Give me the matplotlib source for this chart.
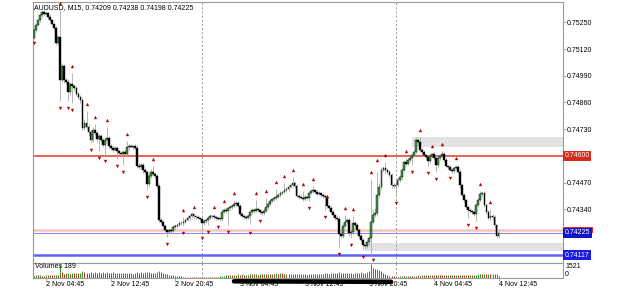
# -*- coding: utf-8 -*-
"""
AUDUSD M15 (MT4), velas del 2 Nov 03:15 al 4 Nov 12:45 con fractales,
niveles horizontales, zonas grises y el panel de volumen.
"""
import numpy as np
import matplotlib.pyplot as plt
from matplotlib.patches import Rectangle
from matplotlib.transforms import blended_transform_factory

plt.rcParams['font.family'] = ['Liberation Sans', 'DejaVu Sans']

#Datos (precios en puntos, 1 punto = 0.00001)
apertura0 = 75174
cierres = [75213, 75237, 75262, 75286, 75301, 75291, 75296, 75276, 75262, 75242,
           75223, 75150, 75179, 74969, 75038, 74969, 74960, 74911, 74950, 74940,
           74930, 74901, 74887, 74872, 74736, 74760, 74741, 74716, 74677, 74726,
           74711, 74682, 74697, 74677, 74653, 74677, 74687, 74648, 74638, 74629,
           74638, 74624, 74614, 74609, 74619, 74609, 74643, 74648, 74643, 74648,
           74638, 74551, 74546, 74556, 74531, 74522, 74463, 74502, 74522, 74512,
           74502, 74453, 74288, 74278, 74259, 74239, 74229, 74239, 74234, 74254,
           74259, 74263, 74273, 74273, 74278, 74288, 74298, 74307, 74317, 74307,
           74302, 74298, 74293, 74273, 74283, 74288, 74298, 74307, 74307, 74302,
           74298, 74293, 74293, 74327, 74336, 74332, 74346, 74351, 74356, 74366,
           74371, 74356, 74317, 74307, 74302, 74298, 74307, 74327, 74336, 74332,
           74341, 74336, 74327, 74322, 74332, 74351, 74366, 74380, 74390, 74395,
           74400, 74410, 74419, 74424, 74434, 74439, 74448, 74458, 74468, 74453,
           74405, 74400, 74395, 74390, 74400, 74395, 74419, 74429, 74434, 74424,
           74414, 74419, 74410, 74405, 74400, 74356, 74346, 74327, 74312, 74298,
           74293, 74220, 74210, 74259, 74278, 74288, 74224, 74229, 74273, 74263,
           74239, 74210, 74190, 74166, 74161, 74181, 74200, 74278, 74312, 74322,
           74410, 74448, 74531, 74541, 74531, 74522, 74507, 74458, 74453, 74458,
           74483, 74497, 74531, 74570, 74560, 74580, 74590, 74604, 74619, 74677,
           74667, 74629, 74619, 74604, 74595, 74575, 74599, 74609, 74590, 74556,
           74590, 74599, 74609, 74580, 74551, 74546, 74531, 74526, 74541, 74546,
           74522, 74458, 74410, 74385, 74351, 74336, 74332, 74327, 74317, 74361,
           74385, 74414, 74419, 74361, 74327, 74298, 74307, 74302, 74263, 74209,
           74225]

#mechas superiores e inferiores (puntos)
mecha_sup = [8, 10, 6, 12, 9, 7, 10, 6, 8, 5,
             7, 10, 12, 130, 15, 10, 8, 12, 9, 53,
             10, 8, 12, 9, 15, 20, 58, 12, 10, 15,
             28, 10, 12, 8, 10, 15, 53, 10, 8, 12,
             10, 8, 10, 6, 9, 12, 29, 8, 10, 6,
             8, 15, 12, 10, 8, 12, 10, 15, 12, 28,
             10, 12, 15, 10, 8, 10, 6, 8, 5, 10,
             8, 6, 10, 12, 23, 8, 10, 6, 8, 2,
             6, 8, 5, 10, 8, 6, 10, 8, 6, 9,
             5, 8, 6, 12, 9, 8, 6, 10, 8, 18,
             8, 10, 12, 8, 6, 10, 8, 6, 10, 8,
             43, 8, 6, 10, 12, 43, 8, 10, 6, 8,
             38, 8, 10, 6, 33, 8, 10, 6, 28, 10,
             12, 8, 10, 33, 8, 6, 10, 8, 18, 6,
             8, 10, 6, 8, 10, 5, 12, 8, 10, 6,
             8, 15, 10, 12, 33, 10, 12, 8, 33, 10,
             8, 12, 10, 8, 6, 10, 12, 209, 30, 25,
             110, 20, 15, 12, 28, 10, 8, 12, 10, 8,
             10, 8, 12, 10, 19, 8, 10, 6, 12, 15,
             10, 24, 8, 10, 6, 10, 8, 4, 10, 8,
             10, 8, 14, 8, 10, 6, 10, 8, 6, 9,
             10, 12, 8, 10, 6, 10, 8, 6, 10, 12,
             10, 14, 8, 10, 6, 8, 33, 10, 8, 6,
             13]
mecha_inf = [5, 8, 6, 10, 8, 12, 6, 10, 8, 6,
             10, 12, 8, 101, 10, 15, 12, 43, 15, 82,
             12, 8, 10, 15, 12, 10, 8, 12, 13, 10,
             8, 12, 57, 10, 8, 43, 10, 12, 8, 10,
             6, 38, 10, 8, 52, 10, 8, 12, 6, 10,
             8, 12, 10, 8, 12, 10, 28, 10, 8, 12,
             10, 8, 12, 10, 8, 12, 23, 10, 8, 6,
             10, 8, 6, 10, 14, 8, 6, 10, 8, 12,
             8, 6, 10, 38, 8, 10, 24, 6, 10, 8,
             8, 4, 10, 8, 6, 10, 68, 8, 10, 6,
             8, 10, 12, 8, 10, 8, 6, 39, 8, 10,
             6, 8, 9, 10, 8, 6, 10, 8, 6, 10,
             8, 6, 10, 8, 6, 8, 10, 6, 8, 10,
             8, 10, 6, 8, 10, 8, 14, 6, 8, 10,
             8, 6, 10, 8, 63, 8, 10, 12, 8, 10,
             12, 63, 10, 12, 8, 10, 12, 23, 10, 8,
             12, 10, 8, 24, 12, 10, 15, 83, 12, 10,
             15, 12, 10, 8, 12, 10, 8, 12, 10, 47,
             8, 10, 12, 8, 10, 6, 8, 33, 10, 8,
             12, 10, 8, 6, 10, 23, 8, 10, 8, 34,
             10, 8, 6, 10, 8, 12, 4, 10, 8, 6,
             10, 12, 10, 8, 12, 38, 10, 8, 12, 33,
             10, 8, 12, 10, 8, 12, 10, 8, 12, 10,
             11]

volumenes = [250, 300, 280, 320, 260, 240, 300, 270, 310, 290,
             330, 280, 350, 1350, 600, 450, 500, 520, 480, 560,
             520, 560, 500, 580, 700, 620, 580, 540, 600, 560,
             620, 560, 590, 540, 600, 560, 610, 580, 550, 600,
             540, 570, 520, 580, 550, 520, 560, 500, 530, 480,
             500, 650, 580, 600, 560, 620, 680, 600, 560, 520,
             550, 620, 750, 620, 520, 450, 400, 350, 300, 280,
             250, 230, 200, 180, 160, 150, 140, 120, 130, 110,
             100, 120, 110, 90, 100, 80, 110, 90, 120, 100,
             130, 150, 180, 220, 250, 300, 280, 330, 310, 360,
             340, 380, 360, 400, 350, 370, 340, 390, 410, 380,
             400, 370, 420, 390, 440, 410, 460, 430, 480, 450,
             500, 470, 520, 490, 450, 480, 430, 400, 420, 380,
             450, 410, 390, 430, 400, 370, 410, 380, 420, 390,
             450, 430, 480, 460, 500, 520, 480, 550, 510, 570,
             540, 620, 580, 530, 560, 500, 550, 520, 480, 540,
             510, 570, 600, 550, 580, 620, 700, 1521, 1100, 950,
             1000, 850, 700, 500, 420, 300, 250, 200, 180, 150,
             160, 180, 200, 170, 220, 200, 240, 220, 260, 240,
             280, 260, 300, 270, 320, 290, 330, 300, 340, 310,
             350, 320, 300, 330, 280, 310, 290, 320, 300, 340,
             310, 350, 330, 300, 320, 290, 310, 280, 330, 360,
             400, 450, 420, 480, 440, 460, 420, 450, 400, 380,
             189]

#fractales (indice de barra, precio del marcador)
frac_up_i = [13, 19, 26, 30, 36, 46, 59, 74, 79, 89, 94, 99, 110, 115, 120, 124,
             128, 133, 138, 145, 154, 158, 167, 170, 174, 184, 191, 197, 202, 209,
             221, 226]
frac_up_p = [75344, 75038, 74853, 74789, 74775, 74707, 74585, 74336, 74351, 74351,
             74380, 74419, 74419, 74429, 74473, 74502, 74531, 74463, 74487, 74405,
             74346, 74341, 74522, 74580, 74604, 74624, 74726, 74648, 74658, 74590,
             74463, 74375]
frac_dn_i = [0, 13, 17, 19, 28, 32, 35, 41, 44, 56, 66, 74, 83, 86, 91, 96, 107,
             112, 136, 144, 151, 157, 163, 168, 179, 187, 195, 199, 206, 215, 219]
frac_dn_p = [75150, 74833, 74833, 74823, 74629, 74590, 74575, 74551, 74522, 74400,
             74171, 74224, 74200, 74229, 74254, 74229, 74224, 74283, 74346, 74302,
             74122, 74166, 74107, 74093, 74371, 74522, 74517, 74487, 74492, 74263,
             74249]

#niveles y zonas
nivel_rojo = 0.74600
nivel_ask = 0.74238
nivel_bid = 0.74225
nivel_azul = 0.74117
zona_alta = (187, 0.74643, 0.74692)
zona_baja = (164, 0.74137, 0.74176)

ticks_precio = [0.75250, 0.75120, 0.74990, 0.74860, 0.74730,
                0.74470, 0.74340, 0.74210]
ticks_x = [6, 38, 70, 102, 134, 166, 198, 230]
etiquetas_x = ["2 Nov 04:45", "2 Nov 12:45", "2 Nov 20:45", "3 Nov 04:45",
               "3 Nov 12:45", "3 Nov 20:45", "4 Nov 04:45", "4 Nov 12:45"]
separadores = [83, 179]
titulo = "AUDUSD, M15, 0.74209 0.74238 0.74198 0.74225"

#----
c = np.array(cierres) / 1e5
o = np.concatenate([[apertura0], cierres[:-1]]) / 1e5
hi = np.maximum(o, c) + np.array(mecha_sup) / 1e5
lo = np.minimum(o, c) - np.array(mecha_inf) / 1e5
idx = np.arange(len(c))
vol = np.array(volumenes)

W, H = 625, 289
fs = 5.0
gris = '#9a9a9a'


def caja(x0, y0, x1, y1):
    # pixeles -> fraccion de figura
    return [x0 / W, 1 - y1 / H, (x1 - x0) / W, (y1 - y0) / H]


fig = plt.figure(figsize=(W / 100, H / 100), dpi=100)
ax = fig.add_axes(caja(33, 1.5, 563, 263))
axv = fig.add_axes(caja(33, 263, 563, 278), sharex=ax)

# zonas grises
for x0, y0, y1 in [zona_alta, zona_baja]:
    ax.add_patch(Rectangle((x0, y0), 400, y1 - y0, fc='#e2e2e2', ec='none', zorder=0.5))

# lineas horizontales
ax.axhline(nivel_rojo, color='#e2392c', lw=1.1, zorder=1)
ax.axhline(nivel_ask, color='#f7c4bf', lw=1.8, zorder=1)
ax.axhline(nivel_bid, color='#8d8df2', lw=0.8, zorder=1)
ax.axhline(nivel_azul, color='#6060ff', lw=1.8, zorder=1)

for a in (ax, axv):
    for s in separadores:
        a.axvline(s, color='#8a8a8a', lw=0.6, ls=(0, (2.5, 2.5)), zorder=1)

# velas
ax.vlines(idx, lo, hi, color='#ababab', lw=0.6, zorder=2)
alcista = c >= o
cuerpo = np.maximum(np.abs(c - o), 2.5e-5)
ax.bar(idx, cuerpo, bottom=np.minimum(o, c), width=0.9,
       color=np.where(alcista, '#3f9d3f', 'black'), edgecolor='black',
       linewidth=0.3, zorder=3)

# fractales
ax.plot(frac_up_i, np.array(frac_up_p) / 1e5, '^', color='#b40000', ms=2.4, mew=0, zorder=4)
ax.plot(frac_dn_i, np.array(frac_dn_p) / 1e5, 'v', color='#b40000', ms=2.4, mew=0, zorder=4)

ax.set_xlim(-0.495, 261.9)
ax.set_ylim(0.740785, 0.753517)
ax.yaxis.tick_right()
ax.set_yticks(ticks_precio)
ax.set_yticklabels(["%.5f" % t for t in ticks_precio])
ax.tick_params(axis='y', labelsize=fs, length=2, width=0.6, color=gris, pad=1)
ax.tick_params(axis='x', bottom=False, labelbottom=False)

# etiquetas de precio a la derecha
tr = blended_transform_factory(ax.transAxes, ax.transData)
# caja roja del ask, casi tapada por la del bid
ax.add_patch(Rectangle((1.002, 0.74224), 0.055, 0.00031, transform=tr,
                       fc='#e02a20', ec='none', clip_on=False, zorder=5))
for p, col in [(nivel_rojo, '#d52a1c'), (nivel_bid, '#1515c8'), (nivel_azul, '#1a1ae0')]:
    ax.text(1.0035, p, "%.5f" % p, transform=tr, color='white', fontsize=fs,
            va='center', ha='left', zorder=6, clip_on=False,
            bbox=dict(boxstyle='square,pad=0.2', fc=col, ec='none'))

ax.text(0.0025, 0.977, titulo, transform=ax.transAxes, fontsize=fs, va='center',
        ha='left', zorder=6)

# volumen: verde si sube respecto a la barra anterior
sube = np.concatenate([[True], vol[1:] > vol[:-1]])
axv.vlines(idx, 0, vol, colors=np.where(sube, '#1f9a1f', '#e02020'), lw=0.7)
axv.set_ylim(0, 1600)
axv.set_yticks([])
axv.set_xticks(ticks_x)
axv.set_xticklabels(etiquetas_x, ha='left')
axv.tick_params(axis='x', labelsize=fs, length=2, width=0.6, color=gris, pad=0.5)
axv.text(0.003, 0.78, "Volumes 189", transform=axv.transAxes, fontsize=fs, va='center')
fig.text(565 / W, 1 - 267 / H, "1521", fontsize=fs, va='center')
fig.text(565 / W, 1 - 275 / H, "0", fontsize=fs, va='center')

for a in (ax, axv):
    for sp in a.spines.values():
        sp.set_color(gris)
        sp.set_linewidth(0.8)

# tachon negro sobre las fechas del 3 Nov
fig.add_artist(plt.Line2D([234 / W, 391 / W], [1 - 281.3 / H, 1 - 281.8 / H],
                          transform=fig.transFigure, color='black', lw=3.3,
                          solid_capstyle='round'))

plt.savefig("out.png", dpi=100)
